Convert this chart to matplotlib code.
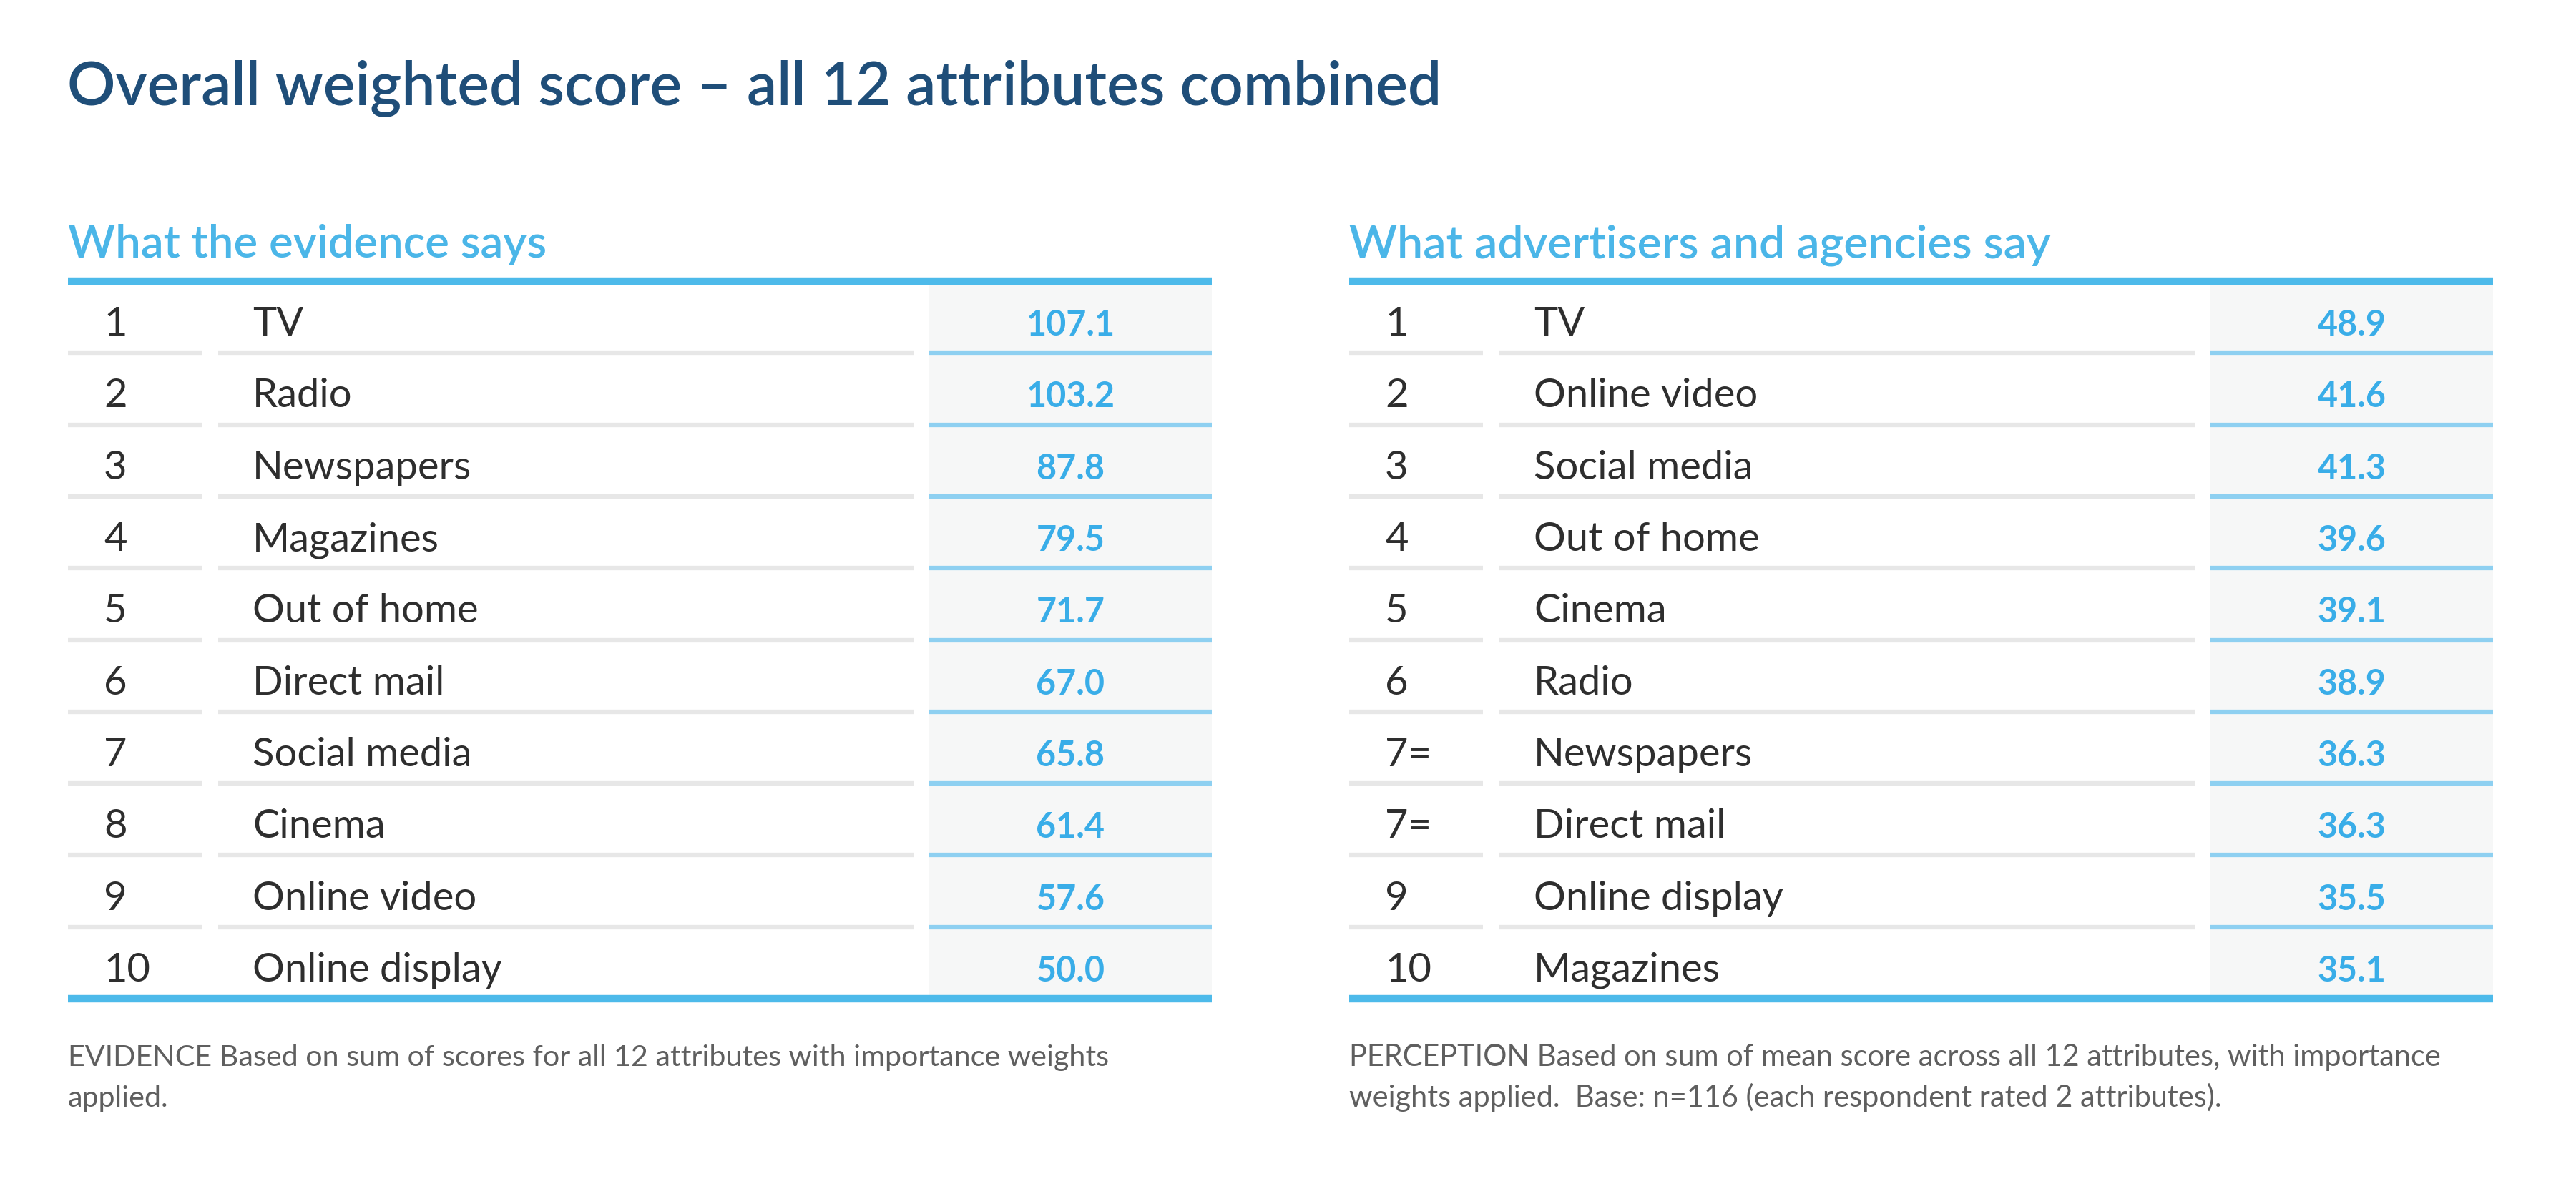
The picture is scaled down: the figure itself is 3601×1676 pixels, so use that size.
import matplotlib
matplotlib.use("Agg")
import matplotlib.pyplot as plt
from matplotlib.patches import Rectangle

# ---------------- data ----------------
title = "Overall weighted score \u2013 all 12 attributes combined"
left_heading = "What the evidence says"
right_heading = "What advertisers and agencies say"

evidence_ranks = ["1", "2", "3", "4", "5", "6", "7", "8", "9", "10"]
evidence_media = ["TV", "Radio", "Newspapers", "Magazines", "Out of home",
                  "Direct mail", "Social media", "Cinema", "Online video", "Online display"]
evidence_scores = [107.1, 103.2, 87.8, 79.5, 71.7, 67.0, 65.8, 61.4, 57.6, 50.0]

perception_ranks = ["1", "2", "3", "4", "5", "6", "7=", "7=", "9", "10"]
perception_media = ["TV", "Online video", "Social media", "Out of home", "Cinema",
                    "Radio", "Newspapers", "Direct mail", "Online display", "Magazines"]
perception_scores = [48.9, 41.6, 41.3, 39.6, 39.1, 38.9, 36.3, 36.3, 35.5, 35.1]

left_note = ["EVIDENCE Based on sum of scores for all 12 attributes with importance weights",
             "applied."]
right_note = ["PERCEPTION Based on sum of mean score across all 12 attributes, with importance",
              "weights applied.  Base: n=116 (each respondent rated 2 attributes)."]

# ---------------- style ----------------
FONT = "Lato"
C_TITLE = "#1f4e79"
C_HEAD = "#4bb6e8"
C_THICK = "#4dbaea"
C_SEP_BLUE = "#8ed0f1"
C_SEP_GRAY = "#e7e7e7"
C_BG = "#f6f7f7"
C_TEXT = "#2e2e2e"
C_VAL = "#39ade8"
C_NOTE = "#5f5f5f"

W, H = 3601, 1676
fig = plt.figure(figsize=(W / 100, H / 100), dpi=100)
ax = fig.add_axes([0, 0, 1, 1])
ax.set_xlim(0, W)
ax.set_ylim(H, 0)
ax.axis("off")
renderer = fig.canvas.get_renderer()


def fit_size(s, width, weight="normal"):
    t = ax.text(0, 0, s, fontsize=40, family=FONT, weight=weight)
    w = t.get_window_extent(renderer).width
    t.remove()
    return 40 * width / w


# title
ax.text(94, 147, title, fontsize=fit_size(title, 1921, "semibold"), family=FONT,
        weight="semibold", color=C_TITLE, va="baseline", ha="left")

row_size = fit_size("Online display", 349)
val_size = fit_size("107.1", 124, "bold")

TOP = 393
ROW_H = 100.3
N = 10
BOTTOM = TOP + N * ROW_H
RANK_W, GAP1, NAME_W, GAP2, VAL_W = 187, 23, 972, 22, 395
TOTAL_W = RANK_W + GAP1 + NAME_W + GAP2 + VAL_W
THICK_LW = 7.5
SEP_LW = 4.5


def draw_table(x0, heading, head_w, ranks, media, scores, notes, note_w):
    rank_x0, rank_x1 = x0, x0 + RANK_W
    name_x0 = rank_x1 + GAP1
    name_x1 = name_x0 + NAME_W
    val_x0 = name_x1 + GAP2
    val_x1 = val_x0 + VAL_W
    # heading
    ax.text(x0, 360, heading, fontsize=fit_size(heading, head_w, "semibold"),
            family=FONT, weight="semibold", color=C_HEAD, va="baseline", ha="left")
    # value column background
    ax.add_patch(Rectangle((val_x0, TOP), VAL_W, BOTTOM - TOP, facecolor=C_BG,
                           edgecolor="none", zorder=0))
    # row separators
    for k in range(1, N):
        y = TOP + k * ROW_H
        ax.plot([rank_x0, rank_x1], [y, y], color=C_SEP_GRAY, lw=SEP_LW,
                solid_capstyle="butt", zorder=1)
        ax.plot([name_x0, name_x1], [y, y], color=C_SEP_GRAY, lw=SEP_LW,
                solid_capstyle="butt", zorder=1)
        ax.plot([val_x0, val_x1], [y, y], color=C_SEP_BLUE, lw=SEP_LW,
                solid_capstyle="butt", zorder=1)
    # thick lines
    for y in (TOP, BOTTOM):
        ax.plot([x0, x0 + TOTAL_W], [y, y], color=C_THICK, lw=THICK_LW,
                solid_capstyle="butt", zorder=2)
    # rows
    for i, (r, m, v) in enumerate(zip(ranks, media, scores)):
        yb = TOP + (i + 0.5) * ROW_H + 26
        ax.text(x0 + 50, yb, r, fontsize=row_size, family=FONT, color=C_TEXT,
                va="baseline", ha="left")
        ax.text(name_x0 + 48, yb, m, fontsize=row_size, family=FONT, color=C_TEXT,
                va="baseline", ha="left")
        ax.text((val_x0 + val_x1) / 2, yb, f"{v:.1f}", fontsize=val_size, family=FONT,
                weight="bold", color=C_VAL, va="baseline", ha="center")
    # notes
    ns = fit_size(notes[0], note_w)
    for j, line in enumerate(notes):
        ax.text(x0, 1490 + j * 57, line, fontsize=ns, family=FONT, color=C_NOTE,
                va="baseline", ha="left")


draw_table(95, left_heading, 669, evidence_ranks, evidence_media, evidence_scores,
           left_note, 1457)
draw_table(1886, right_heading, 980, perception_ranks, perception_media,
           perception_scores, right_note, 1527)

fig.savefig("out.png", dpi=100, facecolor="white")
